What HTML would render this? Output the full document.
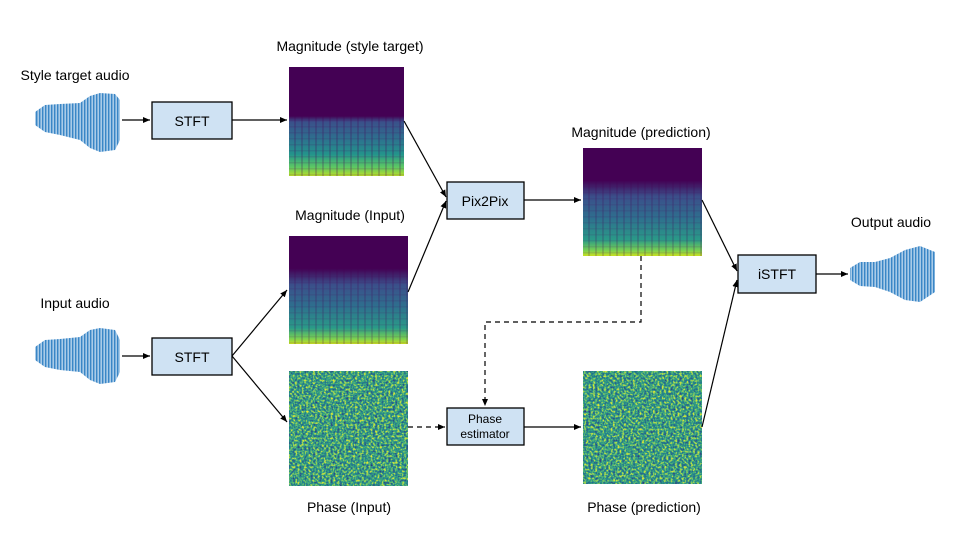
<!DOCTYPE html>
<html><head><meta charset="utf-8"><style>
html,body{margin:0;padding:0;background:#fff;}
svg{display:block;font-family:"Liberation Sans",Arial,sans-serif;}
</style></head><body>
<svg width="960" height="552" viewBox="0 0 960 552" xmlns="http://www.w3.org/2000/svg">
<defs>
<marker id="ah" markerWidth="8" markerHeight="8" refX="7" refY="4" orient="auto" markerUnits="userSpaceOnUse">
<path d="M0,1 L7,4 L0,7 z" fill="#000"/></marker>
<pattern id="wv" width="3" height="10" patternUnits="userSpaceOnUse">
<rect width="3" height="10" fill="#a9cbe8"/><rect x="0" width="1.4" height="10" fill="#3a86c6"/></pattern>
<linearGradient id="spec" x1="0" y1="0" x2="0" y2="1">
<stop offset="0" stop-color="#440154"/><stop offset="0.45" stop-color="#440154"/>
<stop offset="0.5" stop-color="#3b4f8a"/><stop offset="0.65" stop-color="#2e6f8e"/>
<stop offset="0.8" stop-color="#23948c"/><stop offset="0.92" stop-color="#5ec962"/>
<stop offset="1" stop-color="#b8de29"/></linearGradient>
<linearGradient id="spec2" x1="0" y1="0" x2="0" y2="1">
<stop offset="0" stop-color="#440154"/><stop offset="0.3" stop-color="#440154"/>
<stop offset="0.45" stop-color="#3b4f8a"/><stop offset="0.65" stop-color="#2e6f8e"/>
<stop offset="0.85" stop-color="#2a9a88"/><stop offset="0.95" stop-color="#7ad151"/>
<stop offset="1" stop-color="#c8e020"/></linearGradient>
<pattern id="stripe" width="7" height="6" patternUnits="userSpaceOnUse">
<rect x="0" width="2" height="6" fill="#440154" opacity="0.35"/><rect y="0" width="7" height="1.5" fill="#440154" opacity="0.2"/></pattern>
<filter id="noise" x="0" y="0" width="100%" height="100%" color-interpolation-filters="sRGB">
<feTurbulence type="fractalNoise" baseFrequency="0.45" numOctaves="2" seed="3"/>
<feColorMatrix type="matrix" values="1.5 0 0 0 -0.25  1.5 0 0 0 -0.25  1.5 0 0 0 -0.25  0 0 0 0 1"/>
<feComponentTransfer>
<feFuncR type="table" tableValues="0.23 0.17 0.14 0.3 0.7 0.95"/>
<feFuncG type="table" tableValues="0.2 0.4 0.55 0.7 0.85 0.9"/>
<feFuncB type="table" tableValues="0.45 0.55 0.55 0.47 0.3 0.15"/>
</feComponentTransfer>
</filter>
</defs>

<g>
<polygon points="35,112 45,105 60,104 80,103 90,96 100,93 115,94 120,100 120,140 115,150 100,152 90,148 80,140 60,135 45,132 35,125" fill="url(#wv)"/>
<polygon points="35,347 45,340 60,339 80,337 90,330 100,328 115,330 120,340 120,372 115,382 100,384 90,380 80,372 60,370 45,367 35,360" fill="url(#wv)"/>
<polygon points="850,268 860,262 875,262 890,258 905,250 920,246 935,252 935,292 920,302 905,300 890,292 875,287 860,286 850,280" fill="url(#wv)"/>
</g>

<rect x="289" y="67" width="115" height="109" fill="url(#spec)"/>
<rect x="289" y="67" width="115" height="109" fill="url(#stripe)" opacity="0.6"/>
<rect x="289" y="67" width="115" height="48" fill="#440154"/>
<rect x="289" y="236" width="119" height="108" fill="url(#spec2)"/>
<rect x="289" y="236" width="119" height="108" fill="url(#stripe)" opacity="0.5"/>
<rect x="289" y="236" width="119" height="32" fill="#440154"/>
<rect x="583" y="148" width="119" height="108" fill="url(#spec2)"/>
<rect x="583" y="148" width="119" height="108" fill="url(#stripe)" opacity="0.5"/>
<rect x="583" y="148" width="119" height="33" fill="#440154"/>

<rect x="289" y="371" width="119" height="115" fill="#3f8a78"/>
<rect x="289" y="371" width="119" height="115" filter="url(#noise)"/>
<rect x="583" y="371" width="119" height="113" fill="#3f8a78"/>
<rect x="583" y="371" width="119" height="113" filter="url(#noise)"/>

<g fill="#cfe2f3" stroke="#000" stroke-width="1.3">
<rect x="152" y="102" width="80" height="37"/>
<rect x="152" y="338" width="80" height="37"/>
<rect x="447" y="182" width="77" height="37"/>
<rect x="447" y="408" width="77" height="37"/>
<rect x="738" y="255" width="78" height="38"/>
</g>
<g font-size="14" text-anchor="middle" fill="#000">
<text x="192" y="126">STFT</text>
<text x="192" y="362">STFT</text>
<text x="485" y="206">Pix2Pix</text>
<text x="485" y="423" font-size="12">Phase</text>
<text x="485" y="438" font-size="12">estimator</text>
<text x="777" y="279">iSTFT</text>
<text x="75" y="80">Style target audio</text>
<text x="350" y="51">Magnitude (style target)</text>
<text x="350" y="220">Magnitude (Input)</text>
<text x="75" y="308">Input audio</text>
<text x="349" y="512">Phase (Input)</text>
<text x="641" y="137">Magnitude (prediction)</text>
<text x="891" y="227">Output audio</text>
<text x="644" y="512">Phase (prediction)</text>
</g>

<g stroke="#000" stroke-width="1.2" fill="none" marker-end="url(#ah)">
<line x1="122" y1="120" x2="150" y2="120"/>
<line x1="122" y1="356" x2="150" y2="356"/>
<line x1="232" y1="120" x2="287" y2="120"/>
<line x1="404" y1="121" x2="446" y2="197"/>
<line x1="408" y1="292" x2="446" y2="201"/>
<line x1="232" y1="356" x2="287" y2="290"/>
<line x1="232" y1="356" x2="287" y2="422"/>
<line x1="524" y1="200" x2="581" y2="200"/>
<line x1="408" y1="427" x2="445" y2="427" stroke-dasharray="5,4"/>
<polyline points="641,256 641,322 485,322 485,406" stroke-dasharray="5,4"/>
<line x1="524" y1="427" x2="581" y2="427"/>
<line x1="702" y1="200" x2="737" y2="271"/>
<line x1="702" y1="427" x2="737" y2="280"/>
<line x1="816" y1="274" x2="848" y2="274"/>
</g>
</svg>
</body></html>
